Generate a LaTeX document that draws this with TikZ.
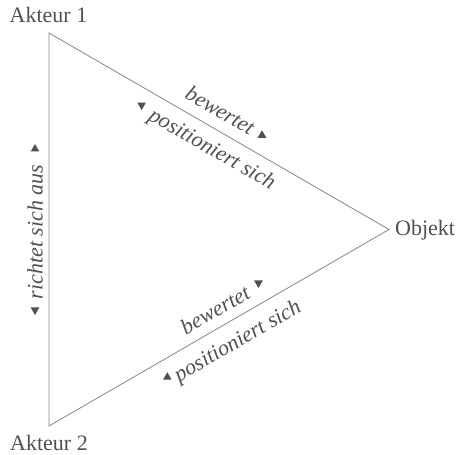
\documentclass[tikz,border=0pt]{standalone}
\usepackage{fontspec}
\setmainfont{Liberation Serif}
\usetikzlibrary{calc,shapes.geometric}
\definecolor{txt}{HTML}{505050}
\definecolor{ln}{HTML}{858585}
\tikzset{
  lab/.style={font=\fontsize{22}{24}\selectfont, text=txt, inner sep=0pt},
  rel/.style={font=\fontsize{22}{24}\selectfont\itshape, text=txt, inner sep=0pt},
  edge/.style={draw=ln, line width=0.8pt},
  tup/.style={regular polygon, regular polygon sides=3, fill=txt, inner sep=0pt, minimum size=10pt},
  tdown/.style={tup, shape border rotate=180}
}
\begin{document}
\begin{tikzpicture}[x=1pt,y=1pt]
\useasboundingbox (0,0) rectangle (459,455);
\coordinate (A1) at (49,422);
\coordinate (A2) at (49,29);
\coordinate (O) at (389,225.5);
\draw[edge] (A1) -- (O) -- (A2) -- cycle;
\node[lab, anchor=base] (a1) at (48.5,432) {Akteur 1};
\node[lab, anchor=base] (a2) at (49,4) {Akteur 2};
\node[lab, anchor=base west] (ob) at (395,219) {Objekt};
% top edge
\node[rel, rotate=-30] (b1) at ($(A1)!0.476!(O)+(60:19)$) {bewertet};
\node[rel, rotate=-30] (p1) at ($(A1)!0.508!(O)+(60:-20)$) {positioniert sich};
\node[tup] (t1) at ($(A1)!0.6!(O)+(60:18)$) {};
\node[tdown] (t2) at ($(A1)!0.296!(O)+(60:-16)$) {};
% bottom edge
\node[rel, rotate=30] (b2) at ($(A2)!0.514!(O)+(120:17.5)$) {bewertet};
\node[rel, rotate=30] (p2) at ($(A2)!0.524!(O)+(120:-22)$) {positioniert sich};
\node[tdown] (t3) at ($(A2)!0.644!(O)+(120:19)$) {};
\node[tup] (t4) at ($(A2)!0.323!(O)+(120:-17)$) {};
% left edge
\node[rel, rotate=90] (r) at (35,223) {richtet sich aus};
\node[tup] (t5) at (35,306) {};
\node[tdown] (t6) at (35,145) {};
\end{tikzpicture}
\end{document}
